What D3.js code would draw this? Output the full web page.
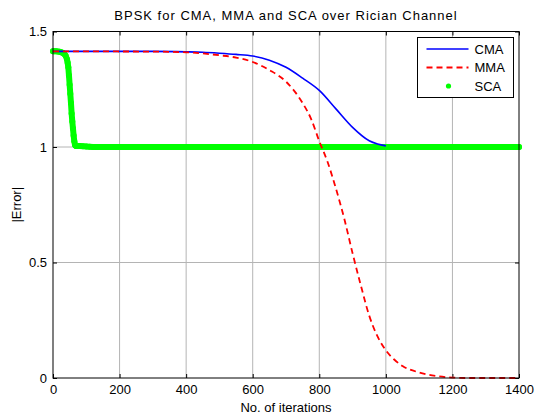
<!DOCTYPE html>
<html>
<head>
<meta charset="utf-8">
<script src="https://cdn.jsdelivr.net/npm/d3@7"></script>
<style>
  body { margin: 0; background: #fff; }
  text { font-family: "Liberation Sans", Arial, sans-serif; }
</style>
</head>
<body>
<div class="chart"></div>
<script>
// values
const xTicks = [0, 200, 400, 600, 800, 1000, 1200, 1400];
const yTicks = [0, 0.5, 1, 1.5];

const cmaIter = [0, 100, 200, 300, 400, 450, 500, 550, 600, 650, 700, 750, 800, 850, 900, 950, 975, 1000];
const cmaErr = [1.414, 1.414, 1.414, 1.414, 1.412, 1.410, 1.406, 1.401, 1.394, 1.376, 1.345, 1.298, 1.245, 1.165, 1.085, 1.027, 1.013, 1.005];

const mmaIter = [0, 300, 400, 450, 500, 550, 600, 650, 700, 750, 775, 800, 825, 850, 875, 900, 925, 950, 975, 1000, 1025, 1050, 1100, 1150, 1200, 1250, 1400];
const mmaErr = [1.414, 1.413, 1.410, 1.405, 1.397, 1.387, 1.368, 1.333, 1.283, 1.190, 1.123, 1.025, 0.935, 0.82, 0.69, 0.54, 0.40, 0.27, 0.18, 0.12, 0.08, 0.052, 0.024, 0.009, 0.002, 0, 0];

const scaIter = [0, 5, 10, 15, 20, 25, 30, 34, 38, 42, 44, 46, 48, 50, 52, 54, 56, 58, 60, 62, 64, 66, 68, 70, 80, 90, 100, 110, 120, 200, 400, 600, 800, 1000, 1200, 1400];
const scaErr = [1.414, 1.414, 1.414, 1.413, 1.412, 1.410, 1.407, 1.403, 1.395, 1.38, 1.365, 1.345, 1.31, 1.27, 1.23, 1.19, 1.145, 1.11, 1.08, 1.05, 1.025, 1.01, 1.005, 1.004, 1.004, 1.003, 1.002, 1.001, 1.0, 1.0, 1.0, 1.0, 1.0, 1.0, 1.0, 1.0];

const legendNames = ['CMA', 'MMA', 'SCA'];

const margin = { top: 31.5, right: 16, bottom: 38, left: 53 };
const W = 535, H = 416;
const width = W - margin.left - margin.right;
const height = H - margin.top - margin.bottom;

const svg = d3.select('.chart').append('svg')
  .attr('width', W)
  .attr('height', H);

const g = svg.append('g')
  .attr('transform', `translate(${margin.left},${margin.top})`);

const x = d3.scaleLinear().domain([0, 1400]).range([0, width]);
const y = d3.scaleLinear().domain([0, 1.5]).range([height, 0]);

// grid
g.append('g').selectAll('line')
  .data(xTicks.slice(1, -1))
  .enter().append('line')
  .attr('x1', d => x(d)).attr('x2', d => x(d))
  .attr('y1', 0).attr('y2', height)
  .attr('stroke', '#b4b4b4');
g.append('g').selectAll('line')
  .data(yTicks.slice(1, -1))
  .enter().append('line')
  .attr('x1', 0).attr('x2', width)
  .attr('y1', d => y(d)).attr('y2', d => y(d))
  .attr('stroke', '#b4b4b4');

// axes, ticks point inwards
const fmt = d3.format('');
const styleAxis = sel => {
  sel.select('.domain').remove();
  sel.selectAll('text').attr('font-size', 13).attr('fill', '#000')
    .style('font-family', '"Liberation Sans", Arial, sans-serif');
  sel.selectAll('line').attr('stroke', '#000');
};
g.append('g').attr('transform', `translate(0,${height})`)
  .call(d3.axisBottom(x).tickValues(xTicks).tickFormat(fmt).tickSizeInner(-4).tickSizeOuter(0).tickPadding(7))
  .call(styleAxis);
g.append('g')
  .call(d3.axisTop(x).tickValues(xTicks).tickFormat('').tickSizeInner(-4).tickSizeOuter(0))
  .call(styleAxis);
g.append('g')
  .call(d3.axisLeft(y).tickValues(yTicks).tickFormat(fmt).tickSizeInner(-4).tickSizeOuter(0).tickPadding(6))
  .call(styleAxis);
g.append('g').attr('transform', `translate(${width},0)`)
  .call(d3.axisRight(y).tickValues(yTicks).tickFormat('').tickSizeInner(-4).tickSizeOuter(0))
  .call(styleAxis);

// series
const cma = cmaIter.map((d, i) => [d, cmaErr[i]]);
const mma = mmaIter.map((d, i) => [d, mmaErr[i]]);
const sca = scaIter.map((d, i) => [d, scaErr[i]]);

const line = d3.line().x(d => x(d[0])).y(d => y(d[1])).curve(d3.curveMonotoneX);

g.append('path').datum(sca)
  .attr('d', d3.line().x(d => x(d[0])).y(d => y(d[1])))
  .attr('fill', 'none').attr('stroke', '#00ff00').attr('stroke-width', 6)
  .attr('stroke-linejoin', 'round').attr('stroke-linecap', 'round');
g.append('g').selectAll('circle')
  .data(sca)
  .enter().append('circle')
  .attr('cx', d => x(d[0])).attr('cy', d => y(d[1]))
  .attr('r', 3).attr('fill', '#00ff00');

g.append('path').datum(cma)
  .attr('d', line)
  .attr('fill', 'none').attr('stroke', '#0000ff').attr('stroke-width', 1.6);

g.append('path').datum(mma)
  .attr('d', line)
  .attr('fill', 'none').attr('stroke', '#ff0000').attr('stroke-width', 1.8)
  .attr('stroke-dasharray', '6,4');

// frame
g.append('rect')
  .attr('width', width).attr('height', height)
  .attr('fill', 'none').attr('stroke', '#000').attr('stroke-width', 1);

// legend
const leg = svg.append('g').attr('transform', 'translate(417.5,37.5)');
leg.append('rect').attr('width', 96).attr('height', 60)
  .attr('fill', '#fff').attr('stroke', '#000');
const rows = [11.5, 30, 48.5];
leg.append('line').attr('x1', 9).attr('x2', 51).attr('y1', rows[0]).attr('y2', rows[0])
  .attr('stroke', '#0000ff').attr('stroke-width', 1.6);
leg.append('line').attr('x1', 9).attr('x2', 51).attr('y1', rows[1]).attr('y2', rows[1])
  .attr('stroke', '#ff0000').attr('stroke-width', 1.8).attr('stroke-dasharray', '6,4');
leg.append('circle').attr('cx', 31).attr('cy', rows[2]).attr('r', 2.6).attr('fill', '#00ff00');
leg.selectAll('text.lbl')
  .data(legendNames)
  .enter().append('text')
  .attr('class', 'lbl')
  .attr('x', 57).attr('y', (d, i) => rows[i] + 4.5)
  .attr('font-size', 13)
  .text(d => d);

// titles
svg.append('text')
  .attr('x', margin.left + width / 2).attr('y', 20)
  .attr('text-anchor', 'middle').attr('font-size', 13)
  .attr('letter-spacing', 1)
  .text('BPSK for CMA, MMA and SCA over Rician Channel');
svg.append('text')
  .attr('x', margin.left + width / 2).attr('y', 412)
  .attr('text-anchor', 'middle').attr('font-size', 13)
  .text('No. of iterations');
svg.append('text')
  .attr('transform', `translate(21,${margin.top + height / 2}) rotate(-90)`)
  .attr('text-anchor', 'middle').attr('font-size', 13)
  .text('|Error|');
</script>
</body>
</html>
